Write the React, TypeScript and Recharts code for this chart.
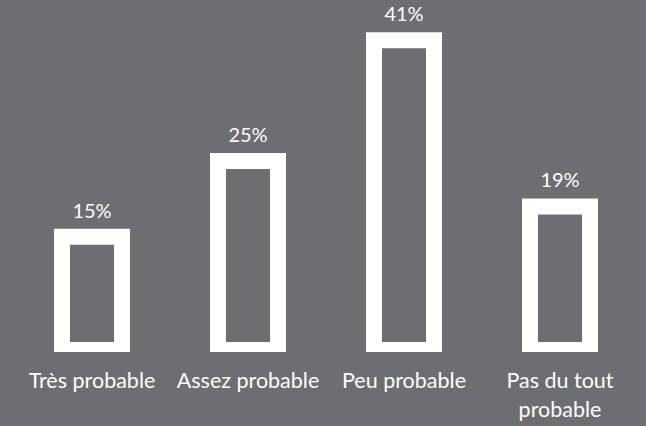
import React from 'react';
import { BarChart, Bar, XAxis, YAxis, LabelList } from 'recharts';

const categoryLines = [['Très probable'], ['Assez probable'], ['Peu probable'], ['Pas du tout', 'probable']];
const categories = categoryLines.map((l) => l.join(' '));
const values = [15, 25, 41, 19];

const data = categories.map((name, i) => ({ name, value: values[i] }));

const BG = '#6d6e71';
const FONT = 'Lato, sans-serif';

function OutlineBar(props: any) {
  const { x, y, width, height } = props;
  const t = 16;
  const outer = `M${x},${y}h${width}v${height + 10}h${-width}Z`;
  const inner = `M${x + t},${y + t}v${height - t}h${width - 2 * t}v${-(height - t)}Z`;
  return <path d={outer + inner} fill="#ffffff" fillRule="evenodd" />;
}

function CategoryTick(props: any) {
  const { x, y, index } = props;
  const lines = categoryLines[index] || [];
  return (
    <text x={x} y={y} textAnchor="middle" fill="#ffffff" fontSize={21.5} fontFamily={FONT}>
      {lines.map((line, i) => (
        <tspan key={i} x={x} dy={i === 0 ? 46 : 28.5}>
          {line}
        </tspan>
      ))}
    </text>
  );
}

export default function App() {
  return (
    <div style={{ position: 'fixed', left: 0, top: 0, width: 646, height: 426, background: BG }}>
      <BarChart width={646} height={426} data={data} margin={{ top: 2, right: 8, left: 14, bottom: 0 }} barSize={76}>
        <XAxis
          dataKey="name"
          axisLine={false}
          tickLine={false}
          tickSize={0}
          tickMargin={0}
          height={84}
          interval={0}
          tick={<CategoryTick />}
        />
        <YAxis hide domain={[0, 45]} />
        <Bar dataKey="value" shape={<OutlineBar />} isAnimationActive={false}>
          <LabelList
            dataKey="value"
            position="top"
            offset={11}
            formatter={(v: any) => `${v}%`}
            fill="#ffffff"
            fontSize={20}
            fontFamily={FONT}
          />
        </Bar>
      </BarChart>
    </div>
  );
}
